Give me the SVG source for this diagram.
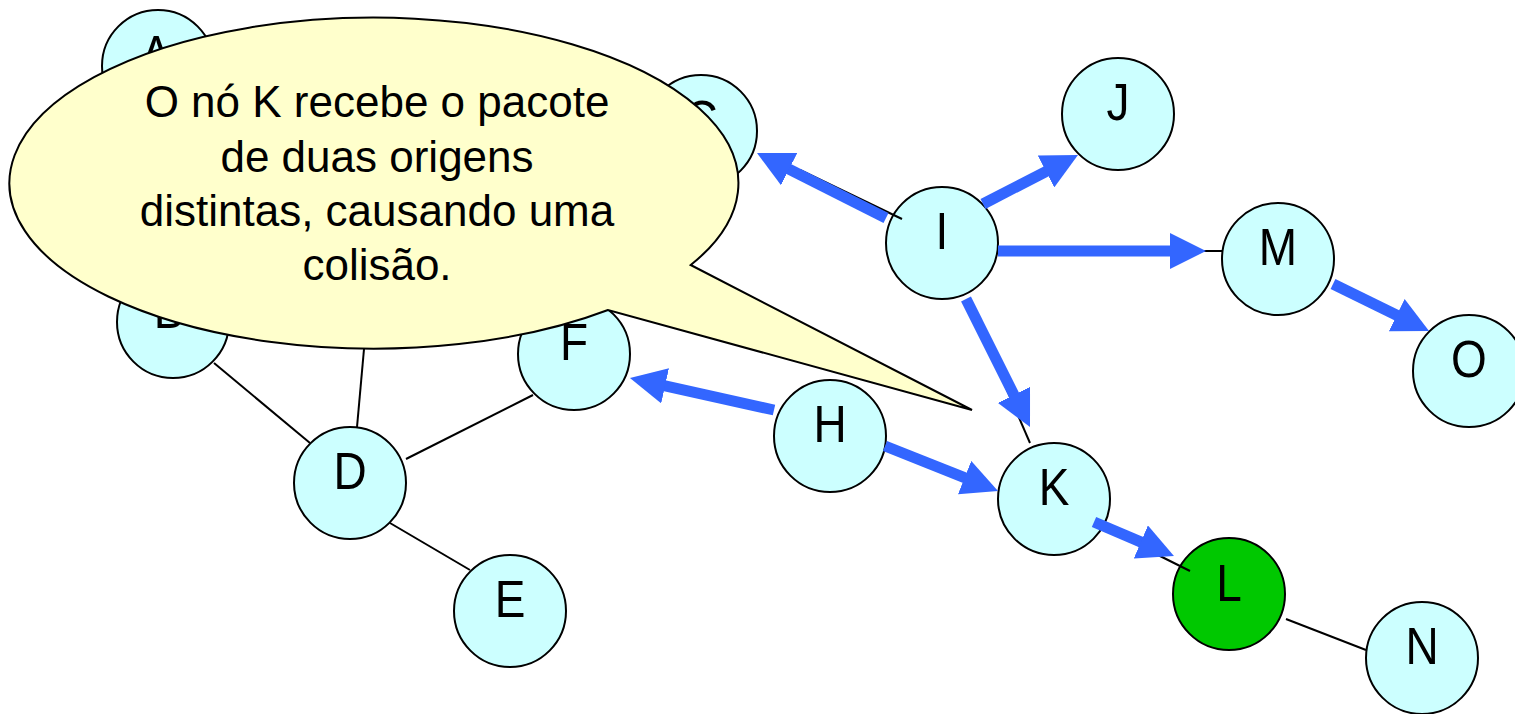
<svg xmlns="http://www.w3.org/2000/svg" width="1515" height="714" viewBox="0 0 1515 714">
<style>
.node circle{fill:#CCFFFF;stroke:#000;stroke-width:2}
.node text{font-family:"Liberation Sans",Arial,sans-serif;font-size:46px;fill:#000;text-anchor:middle}
.thin{stroke:#000;stroke-width:2;fill:none}
.flow{stroke:#3366FF;stroke-width:11;fill:none;marker-end:url(#ah)}
.callout path{fill:#FFFFCC;stroke:#000;stroke-width:2;stroke-linejoin:miter}
.callout text{font-family:"Liberation Sans",Arial,sans-serif;font-size:44px;fill:#000;text-anchor:middle}
</style>
<defs>
<marker id="ah" markerUnits="userSpaceOnUse" viewBox="0 0 36 36" markerWidth="36" markerHeight="36" refX="8" refY="18" orient="auto">
<path d="M0,0 L36,18 L0,36 Z" fill="#3366FF"/>
</marker>
</defs>
<g id="nodes">
<g id="node-A" class="node"><circle cx="158" cy="66" r="56"/><text transform="translate(156,72) scale(1,1.11)">A</text></g>
<g id="node-B" class="node"><circle cx="173" cy="322" r="56"/><text transform="translate(169,328) scale(1,1.11)">B</text></g>
<g id="node-C" class="node"><circle cx="701" cy="131" r="56"/><text transform="translate(701,137) scale(1,1.11)">C</text></g>
<g id="node-D" class="node"><circle cx="350" cy="483" r="56"/><text transform="translate(350,489) scale(1,1.11)">D</text></g>
<g id="node-E" class="node"><circle cx="510" cy="611" r="56"/><text transform="translate(510,617) scale(1,1.11)">E</text></g>
<g id="node-F" class="node"><circle cx="574" cy="354" r="56"/><text transform="translate(574,360) scale(1,1.11)">F</text></g>
<g id="node-H" class="node"><circle cx="830" cy="436" r="56"/><text transform="translate(830,442) scale(1,1.11)">H</text></g>
<g id="node-I" class="node"><circle cx="942" cy="243" r="56"/><text transform="translate(942,249) scale(1,1.11)">I</text></g>
<g id="node-J" class="node"><circle cx="1118" cy="114" r="56"/><text transform="translate(1118,120) scale(1,1.11)">J</text></g>
<g id="node-K" class="node"><circle cx="1054" cy="499" r="56"/><text transform="translate(1054,505) scale(1,1.11)">K</text></g>
<g id="node-L" class="node"><circle cx="1229" cy="594" r="56" style="fill:#00C800"/><text transform="translate(1229,601) scale(1,1.11)">L</text></g>
<g id="node-M" class="node"><circle cx="1278" cy="259" r="56"/><text transform="translate(1278,265) scale(1,1.11)">M</text></g>
<g id="node-N" class="node"><circle cx="1422" cy="658" r="56"/><text transform="translate(1422,664) scale(1,1.11)">N</text></g>
<g id="node-O" class="node"><circle cx="1469" cy="371" r="56"/><text transform="translate(1469,377) scale(1,1.11)">O</text></g>
</g>
<g id="connectors">
<line class="thin" x1="214" y1="363" x2="310" y2="443"/>
<line class="thin" x1="357" y1="427" x2="372" y2="260"/>
<line class="thin" x1="406" y1="459" x2="533" y2="395"/>
<line class="thin" x1="390" y1="523" x2="470" y2="570"/>
<line class="thin" x1="1286" y1="619" x2="1366" y2="650"/>
<line class="thin" x1="1190" y1="571" x2="1100" y2="526"/>
<line class="thin" x1="1030" y1="443" x2="968" y2="300"/>
<line class="thin" x1="998" y1="251" x2="1222" y2="251"/>
<line class="thin" x1="902" y1="219" x2="800" y2="170"/>
<line class="flow" x1="886" y1="218" x2="782" y2="165.6"/>
<line class="flow" x1="983" y1="204" x2="1053.1" y2="167.8"/>
<line class="flow" x1="998" y1="251" x2="1178" y2="251"/>
<line class="flow" x1="966" y1="299" x2="1017.5" y2="402"/>
<line class="flow" x1="774" y1="410" x2="657.3" y2="384.1"/>
<line class="flow" x1="885" y1="446" x2="972" y2="480.6"/>
<line class="flow" x1="1094" y1="522" x2="1148.2" y2="545.1"/>
<line class="flow" x1="1333" y1="284" x2="1403.9" y2="318.7"/>
</g>
<g id="callout" class="callout">
<path d="M690.7,265 L972,410 L608,310 A364.5,165.5 0 1 1 690.7,265 Z"/>
<text x="377" y="117">O nó K recebe o pacote</text>
<text x="377" y="172">de duas origens</text>
<text x="377" y="226">distintas, causando uma</text>
<text x="377" y="280">colisão.</text>
</g>
</svg>
